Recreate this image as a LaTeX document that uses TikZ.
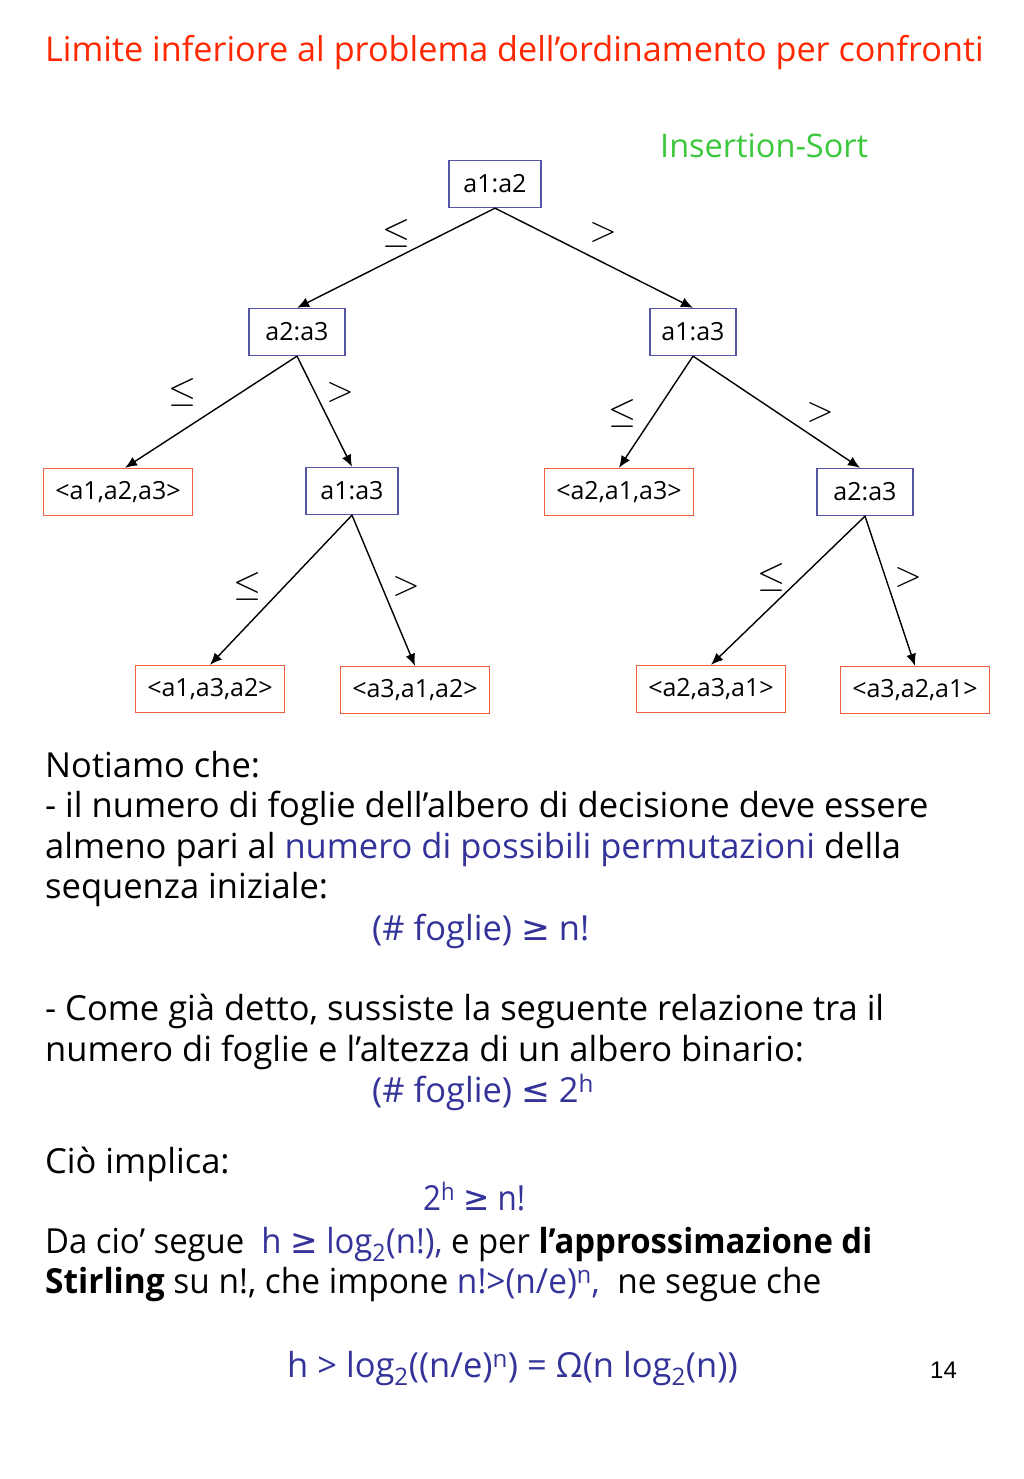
\documentclass[tikz,border=0pt]{standalone}
\usepackage{fontspec}
\setmainfont{Open Sans}
\newfontfamily\numfont{Liberation Sans}
\newfontfamily\symfont{DejaVu Sans}
\usetikzlibrary{arrows.meta}
\definecolor{titlered}{RGB}{255,40,0}
\definecolor{sortgreen}{RGB}{60,200,60}
\definecolor{mathblue}{RGB}{51,51,153}
\definecolor{cmpblue}{RGB}{85,85,165}
\definecolor{leafred}{RGB}{235,95,60}
\newcommand{\bigle}{\scalebox{1.45}{$\leq$}}
\newcommand{\biggt}{\scalebox{1.45}{$>$}}
\begin{document}
\begin{tikzpicture}[x=1pt,y=-1pt,
  cmp/.style={draw=cmpblue, line width=1.3pt, minimum width=92pt, minimum height=47pt, inner sep=0pt, font=\fontsize{25}{27}\selectfont},
  leaf/.style={draw=leafred, line width=1.3pt, minimum width=149pt, minimum height=47pt, inner sep=0pt, font=\fontsize{25}{27}\selectfont},
  edge/.style={-{Latex[length=12pt,width=10pt]}, line width=1.4pt},
  lbl/.style={inner sep=0pt, font=\fontsize{24}{26}\selectfont},
  txtline/.style={anchor=base west, inner sep=0pt, font=\fontsize{34.5}{40}\selectfont}
]
\fill[white] (0,0) rectangle (1024,1479);
\path[use as bounding box] (0,0) rectangle (1024,1479);

\node[anchor=base west, inner sep=0pt, text=titlered, font=\fontsize{34.2}{40}\selectfont] (title) at (45,62) {Limite inferiore al problema dell’ordinamento per confronti};
\node[anchor=base west, inner sep=0pt, text=sortgreen, font=\fontsize{32.5}{36}\selectfont] (ins) at (660,158) {Insertion-Sort};

% tree
\node[cmp] (r) at (495,184) {a1:a2};
\node[cmp, minimum width=96pt] (L) at (297,332) {a2:a3};
\node[cmp, minimum width=86pt] (R) at (693,332) {a1:a3};
\node[leaf] (LL) at (118,492) {<a1,a2,a3>};
\node[cmp] (LR) at (352,491) {a1:a3};
\node[leaf] (RL) at (619,492) {<a2,a1,a3>};
\node[cmp, minimum width=96pt] (RR) at (865,492) {a2:a3};
\node[leaf] (LRL) at (210,689) {<a1,a3,a2>};
\node[leaf] (LRR) at (415,690) {<a3,a1,a2>};
\node[leaf] (RRL) at (711,689) {<a2,a3,a1>};
\node[leaf] (RRR) at (915,690) {<a3,a2,a1>};

\draw[edge] (r.south) -- (L.north);
\draw[edge] (r.south) -- (R.north);
\draw[edge] (L.south) -- ([xshift=7pt]LL.north);
\draw[edge] (L.south) -- (LR.north);
\draw[edge] (R.south) -- (RL.north);
\draw[edge] (R.south) -- ([xshift=-5pt]RR.north);
\draw[edge] (LR.south) -- (LRL.north);
\draw[edge] (LR.south) -- (LRR.north);
\draw[edge] (RR.south) -- (RRL.north);
\draw[edge] (RR.south) -- (RRR.north);

\node[lbl] (e1) at (397,233) {\bigle};
\node[lbl] (e2) at (603,232) {\biggt};
\node[lbl] (e3) at (183,392) {\bigle};
\node[lbl] (e4) at (340,392) {\biggt};
\node[lbl] (e5) at (623,413) {\bigle};
\node[lbl] (e6) at (820,412) {\biggt};
\node[lbl] (e7) at (248,586) {\bigle};
\node[lbl] (e8) at (406,586) {\biggt};
\node[lbl] (e9) at (772,577) {\bigle};
\node[lbl] (e10) at (908,577) {\biggt};

% text
\node[txtline] (l1) at (45,777) {Notiamo che:};
\node[txtline] (l2) at (45,817) {- il numero di foglie dell’albero di decisione deve essere};
\node[txtline] (l3) at (45,858) {almeno pari al \textcolor{mathblue}{numero di possibili permutazioni} della};
\node[txtline] (l4) at (45,898) {sequenza iniziale:};
\node[txtline, text=mathblue] (f1) at (372,940) {(\# foglie) {\symfont ≥} n!};
\node[txtline] (l6) at (45,1020) {- Come già detto, sussiste la seguente relazione tra il};
\node[txtline] (l7) at (45,1061) {numero di foglie e l’altezza di un albero binario:};
\node[txtline, text=mathblue] (f2) at (372,1102) {(\# foglie) {\symfont ≤} 2\textsuperscript{h}};
\node[txtline] (l9) at (45,1173) {Ciò implica:};
\node[txtline, text=mathblue] (f3) at (423,1210) {\scalebox{0.91}[1]{2\textsuperscript{h} {\symfont ≥} n!}};
\node[txtline] (l11) at (45,1253) {\scalebox{0.953}[1]{Da cio’ segue \ \textcolor{mathblue}{h {\symfont ≥} log\textsubscript{2}(n!),} e per \textbf{l’approssimazione di}}};
\node[txtline] (l12) at (45,1293) {\scalebox{0.969}[1]{\textbf{Stirling} su n!, che impone \textcolor{mathblue}{n!>(n/e)\textsuperscript{n},} \ ne segue che}};
\node[txtline, text=mathblue] (f4) at (287,1377) {h > log\textsubscript{2}((n/e)\textsuperscript{n}) = Ω(n log\textsubscript{2}(n))};
\node[anchor=base west, inner sep=0pt, font=\numfont\fontsize{24}{26}\selectfont] (pg) at (930,1378) {14};
\end{tikzpicture}
\end{document}
